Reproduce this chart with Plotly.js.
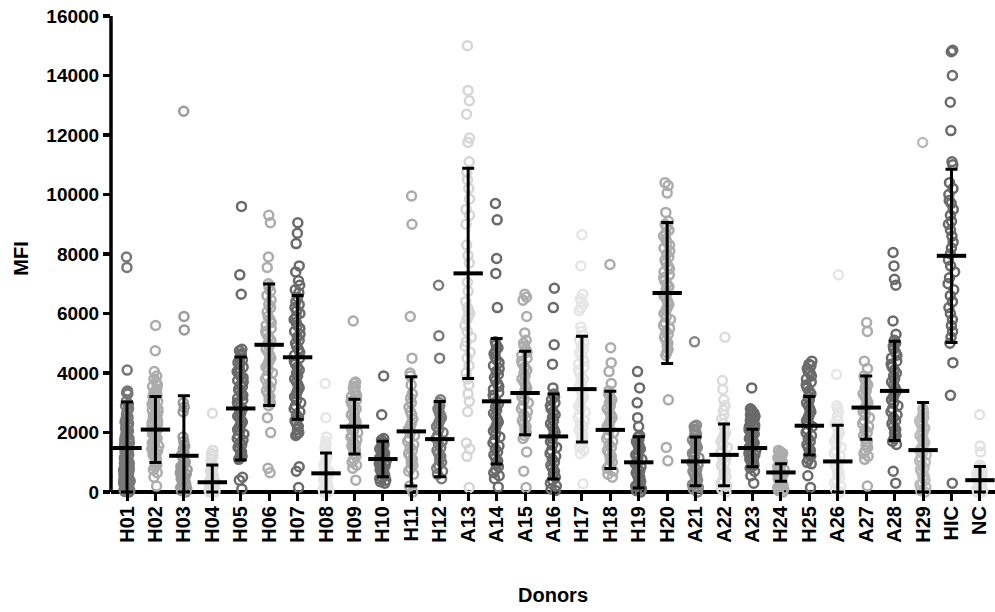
<!DOCTYPE html>
<html>
<head>
<meta charset="utf-8">
<script src="https://cdn.plot.ly/plotly-3.0.1.min.js"></script>
<style>html,body{margin:0;padding:0;background:#fff;}#chart{width:995px;height:612px;}</style>
</head>
<body>
<div id="chart"></div>
<script>
// ---- data ----
const donors = ["H01","H02","H03","H04","H05","H06","H07","H08","H09","H10","H11","H12","A13","A14","A15","A16","H17","H18","H19","H20","A21","A22","A23","H24","H25","A26","A27","A28","H29","HIC","NC"];

const meanMFI = [1480,2100,1220,330,2810,4950,4530,630,2200,1110,2040,1780,7350,3050,3330,1870,3460,2090,1000,6690,1030,1250,1480,660,2230,1030,2840,3400,1410,7940,400];
const sdMFI   = [1550,1110,2020,580,1730,2040,2080,680,920,595,1840,1265,3530,2110,1400,1430,1780,1295,860,2370,820,1035,630,295,985,1220,1065,1670,1600,2910,460];

const H01 = [7900,7550,4100,3400,3350,3300,3050,2950,2900,2800,2700,2600,2500,2450,2350,2300,2200,2150,2050,2000,1950,1900,1850,1800,1750,1700,1650,1600,1550,1500,1450,1400,1350,1300,1250,1200,1150,1100,1050,1000,980,950,920,900,870,850,820,800,770,750,720,700,680,650,620,600,570,550,520,500,470,450,420,400,370,350,320,300,270,250,220,200,170,150,120,100,70,50,20,0];
const H02 = [5600,4750,4050,3900,3800,3700,3600,3550,3450,3400,3300,3250,3200,3100,3050,3000,2950,2900,2850,2800,2750,2700,2650,2600,2550,2500,2450,2400,2350,2300,2250,2200,2150,2100,2050,2000,1950,1900,1850,1800,1750,1700,1650,1600,1550,1500,1450,1400,1350,1300,1250,1200,1100,1000,900,850,750,650,500,200];
const H03 = [12800,5900,5450,3000,2850,2700,1850,1700,1550,1450,1350,1250,1150,1050,1000,950,900,850,800,750,700,650,600,550,500,450,400,350,300,250,200,150,100,50,0];
const H04 = [2650,1400,1300,1200,1100,1000,900,850,800,750,700,650,600,550,500,450,400,380,350,320,300,270,250,220,200,170,150,120,100,80,50,30,0,0];
const H05 = [9600,7300,6650,4800,4750,4650,4600,4500,4450,4350,4300,4200,4150,4050,4000,3900,3850,3750,3700,3600,3550,3450,3400,3300,3250,3150,3100,3000,2950,2850,2800,2700,2650,2550,2500,2400,2350,2250,2200,2100,2050,1950,1900,1800,1750,1650,1600,1500,1450,1350,1300,1200,1150,1100,500,400,100];
const H06 = [9300,9050,7900,7550,7000,6900,6750,6600,6450,6300,6200,6050,5900,5800,5700,5600,5500,5400,5300,5200,5100,5000,4900,4800,4700,4600,4500,4400,4300,4200,4100,4000,3900,3800,3700,3600,3500,3400,3300,3200,3100,3000,2900,2500,2000,800,650];
const H07 = [9050,8700,8350,7600,7400,7100,6950,6800,6700,6550,6400,6300,6200,6100,6000,5900,5800,5700,5600,5500,5400,5300,5200,5100,5000,4900,4800,4700,4600,4500,4400,4300,4200,4100,4000,3900,3800,3700,3600,3500,3400,3300,3200,3100,3000,2900,2800,2700,2600,2500,2400,2300,2200,2100,2000,1950,1900,850,700,150];
const H08 = [3650,2500,1850,1700,1600,1500,1400,1300,1200,1100,1000,900,800,700,650,600,550,500,450,400,350,300,250,200,150,100,50,0,0];
const H09 = [5750,3700,3650,3550,3500,3400,3350,3250,3200,3100,3050,2950,2900,2800,2750,2650,2600,2500,2450,2350,2300,2200,2150,2050,2000,1900,1850,1750,1700,1600,1550,1450,1400,1300,1200,1100,1000,900,800,400];
const H10 = [3900,2600,1800,1750,1700,1650,1600,1550,1500,1450,1400,1350,1300,1250,1200,1150,1100,1050,1000,950,900,850,800,750,700,650,600,550,500,450,400,350,300];
const H11 = [9950,9000,5900,4500,4000,3900,3600,3300,3150,3000,2850,2700,2600,2450,2300,2200,2100,2000,1900,1800,1700,1600,1500,1400,1300,1200,1100,1000,900,800,700,600,200,0];
const H12 = [6950,5250,4500,3100,3000,2900,2800,2700,2600,2500,2400,2300,2200,2100,2000,1900,1800,1700,1600,1500,1400,1300,1200,1100,1000,900,800,700,600,450];
const A13 = [15000,13500,13150,12700,11900,11750,11100,10750,10500,10200,9850,9500,9300,9000,8300,7950,7700,7050,6750,6400,6200,6100,6000,5900,5800,5600,5400,5200,5050,4900,4700,4500,4250,4000,3800,3600,3300,3050,2700,1650,1450,1200,150];
const A14 = [9700,9150,7850,7350,6200,5050,4950,4850,4750,4650,4550,4450,4350,4250,4150,4050,3950,3850,3750,3650,3550,3450,3350,3250,3150,3050,2950,2850,2750,2650,2550,2450,2350,2250,2150,2050,1950,1850,1750,1650,1550,1450,1350,1250,1150,1050,950,850,750,650,550,450,170];
const A15 = [6650,6550,6450,5900,5350,5100,5000,4900,4800,4700,4600,4500,4400,4300,4200,4100,4000,3900,3800,3700,3600,3500,3400,3300,3200,3100,3000,2900,2800,2700,2600,2500,2400,2300,2200,2100,2000,1900,1800,1350,700,150];
const A16 = [6850,6200,4950,4300,3500,3300,3200,3100,3000,2900,2800,2700,2600,2500,2400,2300,2200,2100,2000,1900,1800,1700,1600,1500,1400,1300,1200,1100,1000,900,800,700,600,500,400,300,200,100,50];
const H17 = [8650,7600,6650,6500,6400,6300,6200,6100,5550,5400,5250,5100,5000,4900,4800,4700,4600,4500,4400,4300,4200,4100,4000,3900,3800,3700,3600,3500,3400,3300,3200,3100,3000,2900,2800,2700,2600,2500,2400,2300,2200,2100,2000,1900,1800,1700,1600,1500,1400,1300,280];
const H18 = [7650,4850,4350,4050,3650,3400,3300,3200,3100,3000,2900,2800,2700,2600,2500,2400,2300,2200,2100,2000,1900,1800,1700,1600,1500,1400,1300,1200,1100,1000,900,800,700,600,500];
const H19 = [4050,3500,3000,2500,2200,1900,1850,1750,1700,1600,1550,1450,1400,1300,1250,1150,1100,1000,950,850,800,700,650,550,500,400,350,250,200,100,50,0];
const H20 = [10400,10300,10050,9400,9100,9000,8900,8800,8700,8600,8500,8400,8300,8200,8100,8000,7900,7800,7700,7600,7500,7400,7300,7200,7100,7000,6900,6800,6700,6600,6500,6400,6300,6200,6100,6000,5900,5800,5700,5600,5500,5400,5300,5200,5100,5000,4900,4800,4700,4600,3100,1500,1050];
const A21 = [5050,2250,2200,2100,2050,1950,1900,1800,1750,1650,1600,1500,1450,1350,1300,1200,1150,1050,1000,900,850,750,700,600,550,450,400,300,250,150,100,0];
const A22 = [5200,3750,3450,3100,2900,2750,2600,2450,2300,2150,2000,1900,1800,1700,1600,1500,1400,1300,1200,1100,1000,900,800,700,600,500,400,300,200,100,0];
const A23 = [3500,2800,2750,2700,2650,2600,2550,2500,2450,2400,2350,2300,2250,2200,2150,2100,2050,2000,1950,1900,1850,1800,1750,1700,1650,1600,1550,1500,1450,1400,1350,1300,1250,1200,1150,1100,1050,1000,950,900,850,800,700,550,300];
const H24 = [1400,1350,1300,1250,1200,1150,1100,1050,1000,950,900,850,800,750,700,650,600,550,500,450,400,350,300,250,200,150,100,50,0];
const H25 = [4400,4300,4250,4150,4050,4000,3900,3800,3700,3600,3500,3400,3300,3200,3100,3000,2900,2800,2700,2600,2500,2400,2300,2200,2100,2000,1900,1800,1700,1600,1500,1400,1300,1200,1100,1000,950,550,150];
const A26 = [7300,3950,2900,2800,2700,2550,2400,2300,2200,2100,2000,1900,1800,1700,1600,1500,1400,1300,1200,1100,1000,900,800,700,600,500,400,300,200,100,0];
const A27 = [5700,5400,4400,4150,3900,3800,3700,3600,3500,3400,3300,3200,3100,3000,2900,2800,2700,2600,2500,2400,2300,2200,2100,2000,1900,1800,1700,1600,1500,1400,1300,1200,1100,200];
const A28 = [8050,7600,7150,6950,5750,5300,5100,5000,4900,4800,4700,4600,4500,4400,4300,4200,4100,4000,3900,3800,3700,3600,3500,3400,3300,3200,3100,3000,2900,2800,2700,2600,2500,2400,2300,2200,2100,2000,1900,1800,1700,1600,700,300];
const H29 = [11750,2800,2750,2650,2550,2500,2400,2300,2250,2150,2050,2000,1900,1800,1750,1650,1550,1500,1400,1300,1250,1150,1050,1000,900,800,750,650,550,500,400,300,250,150,50,0];
const HIC = [14850,14800,14000,13100,12150,11100,11000,10400,10200,10000,9800,9700,9500,9300,9100,9000,8800,8600,8400,8200,8000,7800,7600,7400,7200,7000,6800,6600,6400,6200,6000,5800,5600,5400,5200,5000,4350,3250,300];
const NC  = [2600,1550,1350,900,850,800,750,700,650,600,550,500,450,400,350,300,250,200,150,100,50,0,0];

const pointSets = [H01,H02,H03,H04,H05,H06,H07,H08,H09,H10,H11,H12,A13,A14,A15,A16,H17,H18,H19,H20,A21,A22,A23,H24,H25,A26,A27,A28,H29,HIC,NC];

const yTicks = [0,2000,4000,6000,8000,10000,12000,14000,16000];

// ---- styles ----
const dotColors = ["#787878","#acacac","#9a9a9a","#dcdcdc","#6a6a6a","#acacac","#6a6a6a","#e6e6e6","#acacac","#6a6a6a","#acacac","#7c7c7c","#d6d6d6","#6a6a6a","#acacac","#6a6a6a","#e6e6e6","#acacac","#6a6a6a","#acacac","#888888","#dcdcdc","#6a6a6a","#acacac","#6a6a6a","#e6e6e6","#acacac","#6a6a6a","#bbbbbb","#6a6a6a","#e2e2e2"];

const FONT = "Liberation Sans, Arial, Helvetica, sans-serif";
const idx = donors.map((d, i) => i);

const traces = [];
pointSets.forEach((vals, i) => {
  traces.push({
    type: "box",
    x0: i,
    y: vals,
    width: 0.26,
    boxpoints: "all",
    jitter: 1,
    pointpos: 0,
    fillcolor: "rgba(0,0,0,0)",
    line: {width: 0, color: "rgba(0,0,0,0)"},
    marker: {symbol: "circle-open", size: 9, color: dotColors[i], line: {width: 2.5, color: dotColors[i]}},
    hoverinfo: "y",
    showlegend: false
  });
});

traces.push({
  type: "scatter",
  mode: "markers",
  x: idx,
  y: meanMFI,
  cliponaxis: false,
  marker: {symbol: "line-ew", size: 21, color: "#000", line: {width: 4, color: "#000"}},
  error_y: {
    type: "data",
    symmetric: false,
    array: sdMFI,
    arrayminus: sdMFI.map((s, i) => Math.min(s, meanMFI[i])),
    color: "#000",
    thickness: 3,
    width: 6
  },
  showlegend: false,
  hoverinfo: "y"
});

const layout = {
  width: 995,
  height: 612,
  margin: {l: 111, r: 0, t: 16, b: 111},
  paper_bgcolor: "#fff",
  plot_bgcolor: "#fff",
  font: {family: FONT, color: "#000"},
  showlegend: false,
  xaxis: {
    range: [-0.563, 30.53],
    tickmode: "array",
    tickvals: idx,
    ticktext: donors,
    tickangle: -90,
    ticks: "inside",
    ticklen: 9,
    tickwidth: 3,
    tickcolor: "#000",
    showgrid: false,
    zeroline: false,
    showline: false,
    tickfont: {family: FONT, size: 20, weight: "bold", color: "#000"},
    title: {text: "Donors", font: {family: FONT, size: 20, weight: "bold", color: "#000"}, standoff: 46}
  },
  yaxis: {
    range: [-300, 16000],
    tickmode: "array",
    tickvals: yTicks,
    ticktext: yTicks.map(String),
    ticks: "outside",
    ticklen: 7,
    tickwidth: 3.5,
    tickcolor: "#000",
    showgrid: false,
    showline: false,
    zeroline: true,
    zerolinecolor: "#000",
    zerolinewidth: 4,
    tickfont: {family: FONT, size: 19, weight: "bold", color: "#000"},
    title: {text: "MFI", font: {family: FONT, size: 20, weight: "bold", color: "#000"}, standoff: 12}
  },
  shapes: [{
    type: "line", xref: "paper", yref: "y",
    x0: 0, x1: 0, y0: 0, y1: 16000,
    line: {color: "#000", width: 3.5},
    layer: "above"
  }]
};

Plotly.newPlot("chart", traces, layout, {displayModeBar: false, staticPlot: true});
</script>
</body>
</html>
